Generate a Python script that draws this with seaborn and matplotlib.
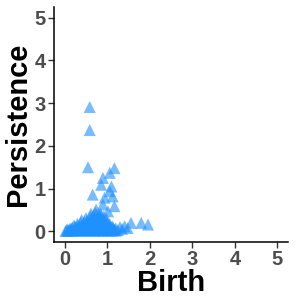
import matplotlib
matplotlib.use("Agg")
import matplotlib.pyplot as plt
import seaborn as sns
import pandas as pd

# Persistence diagram points (birth, persistence)
birth_high = [0.59, 0.59, 0.55, 1.17, 1.06, 0.90, 0.86, 1.10, 1.06, 0.66, 0.94, 1.13, 0.90, 1.17, 0.74, 1.02,
              1.56, 1.80, 1.96, 1.41, 1.30, 1.48, 1.35]
pers_high = [2.91, 2.37, 1.50, 1.48, 1.37, 1.25, 1.09, 1.05, 0.94, 0.86, 0.79, 0.82, 0.63, 0.59, 0.51, 0.47,
             0.20, 0.20, 0.16, 0.12, 0.10, 0.08, 0.06]

birth_low = [0.02, 0.05, 0.08, 0.10, 0.13, 0.16, 0.20, 0.25, 0.30, 0.35, 0.40, 0.45, 0.50, 0.55, 0.60,
             0.65, 0.70, 0.75, 0.80, 0.85, 0.90, 0.95, 1.00, 1.05, 1.10, 1.15, 1.20, 1.25,
             0.12, 0.18, 0.24, 0.30, 0.36, 0.42, 0.48, 0.54, 0.60, 0.66, 0.72, 0.78, 0.84, 0.90, 0.96,
             1.02, 1.08, 1.14, 1.20,
             0.22, 0.30, 0.38, 0.46, 0.52, 0.58, 0.64, 0.70, 0.76, 0.82, 0.88, 0.94, 1.00, 1.06, 1.12,
             0.40, 0.50, 0.60, 0.68, 0.74, 0.80, 0.86, 0.92, 0.98, 0.62, 0.72, 0.84,
             0.06, 0.15, 0.28, 0.44, 0.56, 0.68, 0.80, 0.92, 1.04, 1.16]
pers_low = [0.01, 0.02, 0.02, 0.03, 0.02, 0.03, 0.02, 0.03, 0.02, 0.03, 0.02, 0.03, 0.02, 0.03, 0.02,
            0.03, 0.02, 0.03, 0.02, 0.03, 0.02, 0.03, 0.02, 0.03, 0.02, 0.03, 0.02, 0.03,
            0.06, 0.09, 0.11, 0.12, 0.13, 0.14, 0.15, 0.16, 0.15, 0.16, 0.17, 0.16, 0.15, 0.14, 0.13,
            0.12, 0.10, 0.09, 0.07,
            0.14, 0.18, 0.21, 0.23, 0.24, 0.26, 0.27, 0.28, 0.27, 0.26, 0.24, 0.22, 0.20, 0.17, 0.12,
            0.27, 0.31, 0.35, 0.37, 0.38, 0.40, 0.38, 0.35, 0.30, 0.42, 0.44, 0.41,
            0.05, 0.07, 0.08, 0.09, 0.08, 0.09, 0.08, 0.07, 0.06, 0.05]

df = pd.DataFrame({"Birth": birth_low + birth_high,
                   "Persistence": pers_low + pers_high})

sns.set_style("white")
plt.rcParams["font.family"] = ["Liberation Sans", "DejaVu Sans"]

fig = plt.figure(figsize=(3, 3), dpi=100)
ax = fig.add_axes([0.18, 0.193, 0.78, 0.784])
sns.scatterplot(data=df, x="Birth", y="Persistence", marker="^", s=75,
                color="#1E90FF", alpha=0.6, edgecolor="none", ax=ax, legend=False)

ax.set_xlim(-0.25, 5.25)
ax.set_ylim(-0.25, 5.25)
ax.set_xticks([0, 1, 2, 3, 4, 5])
ax.set_yticks([0, 1, 2, 3, 4, 5])
ax.set_xticklabels(["0", "1", "2", "3", "4", "5"], fontsize=14.5, fontweight="bold", color="#4D4D4D")
ax.set_yticklabels(["0", "1", "2", "3", "4", "5"], fontsize=14.5, fontweight="bold", color="#4D4D4D")
ax.set_xlabel("Birth", fontsize=21, fontweight="bold", color="black", labelpad=0)
ax.set_ylabel("Persistence", fontsize=21, fontweight="bold", color="black", labelpad=2)
ax.tick_params(axis="both", length=4, width=1, color="#333333", pad=2, bottom=True, left=True)
for side in ["top", "right"]:
    ax.spines[side].set_visible(False)
for side in ["left", "bottom"]:
    ax.spines[side].set_color("black")
    ax.spines[side].set_linewidth(1.1)

fig.savefig("out.png", dpi=100)
